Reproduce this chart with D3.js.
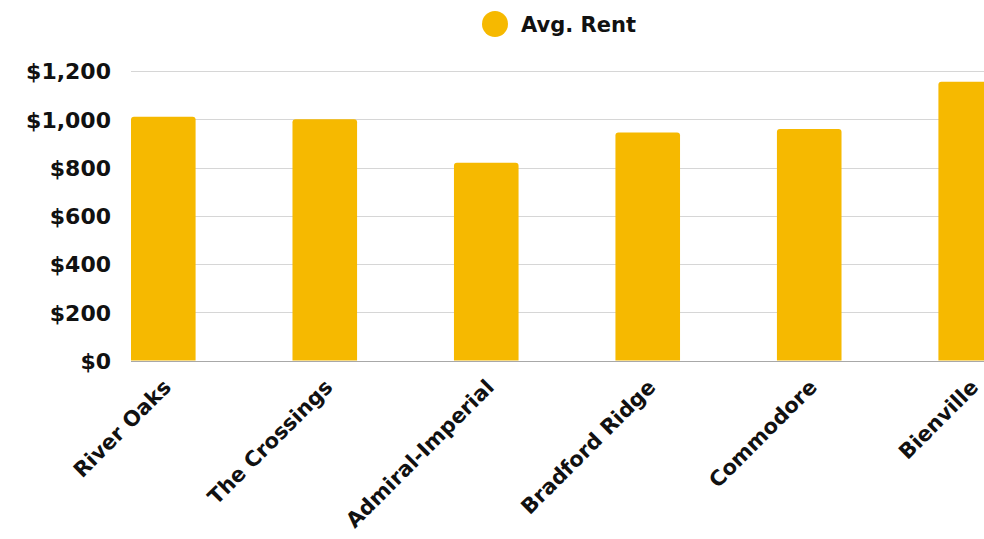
<!DOCTYPE html>
<html>
<head>
<meta charset="utf-8">
<script src="https://cdn.jsdelivr.net/npm/d3@7"></script>
<style>
  html, body { margin: 0; padding: 0; background: #ffffff; overflow: hidden; }
  svg { display: block; font-family: "DejaVu Sans", sans-serif; }
</style>
</head>
<body>
<svg id="chart" width="984" height="539"></svg>
<script>
// Average rent by property
const categories = ["River Oaks", "The Crossings", "Admiral-Imperial", "Bradford Ridge", "Commodore", "Bienville"];
const avgRent = [1010, 1000, 820, 945, 960, 1155];
const yTicks = [0, 200, 400, 600, 800, 1000, 1200];
const seriesName = "Avg. Rent";

const barColor = "#F6B900";
const labelFont = "'DejaVu Sans', sans-serif";
const svg = d3.select("#chart");

const plot = { left: 131, right: 1003, top: 71, bottom: 360.5 };

const x = d3.scaleBand()
  .domain(categories)
  .range([plot.left, plot.right])
  .paddingInner(0.6)
  .paddingOuter(0);

const y = d3.scaleLinear()
  .domain([0, 1200])
  .range([plot.bottom, plot.top]);

// Horizontal gridlines
svg.append("g")
  .selectAll("line")
  .data(yTicks.filter(d => d > 0))
  .join("line")
  .attr("x1", plot.left)
  .attr("x2", 984)
  .attr("y1", d => Math.round(y(d)) + 0.5)
  .attr("y2", d => Math.round(y(d)) + 0.5)
  .attr("stroke", "#d6d6d6")
  .attr("stroke-width", 1);

// Y axis labels
const yAxis = svg.append("g")
  .attr("transform", `translate(${plot.left - 20},0)`)
  .call(d3.axisLeft(y).tickValues(yTicks).tickSize(0).tickPadding(0)
    .tickFormat(d => "$" + d3.format(",")(d)));
yAxis.select(".domain").remove();
yAxis.selectAll("text")
  .attr("font-family", labelFont)
  .attr("font-size", 22)
  .attr("font-weight", 700)
  .attr("fill", "#111")
  .attr("dy", "0.36em");

// Bars with slightly rounded tops
const r = 3;
svg.append("g")
  .selectAll("path")
  .data(categories.map((c, i) => ({ c, v: avgRent[i] })))
  .join("path")
  .attr("fill", barColor)
  .attr("d", d => {
    const x0 = x(d.c), w = x.bandwidth();
    const yt = y(d.v), yb = y(0);
    return `M${x0},${yb}V${yt + r}Q${x0},${yt} ${x0 + r},${yt}H${x0 + w - r}Q${x0 + w},${yt} ${x0 + w},${yt + r}V${yb}Z`;
  });

// Baseline
svg.append("line")
  .attr("x1", plot.left)
  .attr("x2", 984)
  .attr("y1", Math.round(plot.bottom) + 0.5)
  .attr("y2", Math.round(plot.bottom) + 0.5)
  .attr("stroke", "#a8a8a8")
  .attr("stroke-width", 1);

// Rotated category labels
const xAxis = svg.append("g")
  .attr("transform", `translate(0,${plot.bottom})`)
  .call(d3.axisBottom(x).tickSize(0).tickPadding(0));
xAxis.select(".domain").remove();
xAxis.selectAll("text")
  .attr("font-family", labelFont)
  .attr("font-size", 21)
  .attr("font-weight", 700)
  .attr("fill", "#111")
  .attr("text-anchor", "end")
  .attr("dy", null)
  .attr("y", null)
  .attr("transform", "translate(9,28) rotate(-45)");

// Legend
const legend = svg.append("g");
legend.append("circle")
  .attr("cx", 495)
  .attr("cy", 24)
  .attr("r", 13)
  .attr("fill", barColor);
legend.append("text")
  .attr("x", 521)
  .attr("y", 24)
  .attr("dy", "0.36em")
  .attr("font-family", labelFont)
  .attr("font-size", 21)
  .attr("font-weight", 700)
  .attr("fill", "#111")
  .text(seriesName);
</script>
</body>
</html>
